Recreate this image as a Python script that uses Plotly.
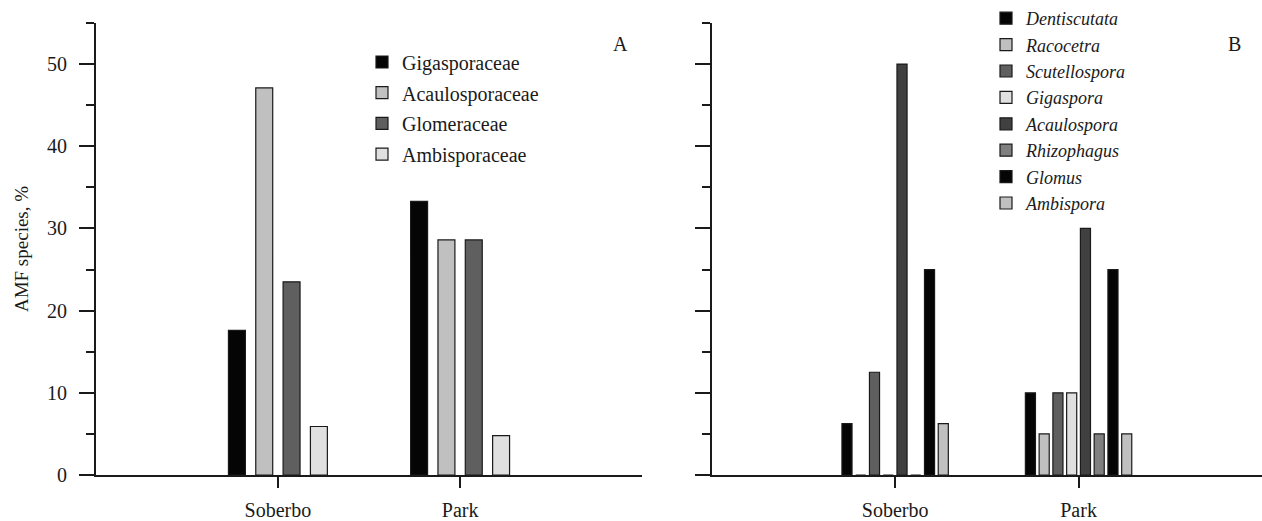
import plotly.graph_objects as go

# ---- data ----
sites = ["Soberbo", "Park"]

families = ["Gigasporaceae", "Acaulosporaceae", "Glomeraceae", "Ambisporaceae"]
family_soberbo = [17.6, 47.1, 23.5, 5.9]
family_park = [33.3, 28.6, 28.6, 4.8]

genera = ["Dentiscutata", "Racocetra", "Scutellospora", "Gigaspora",
          "Acaulospora", "Rhizophagus", "Glomus", "Ambispora"]
genus_soberbo = [6.25, 0, 12.5, 0, 50, 0, 25, 6.25]
genus_park = [10, 5, 10, 10, 30, 5, 25, 5]

y_ticks = [0, 10, 20, 30, 40, 50]

# ---- styles ----
family_colors = ["#050505", "#c0c0c0", "#5f5f5f", "#e0e0e0"]
genus_colors = ["#050505", "#c0c0c0", "#5f5f5f", "#e0e0e0",
                "#404040", "#808080", "#050505", "#c0c0c0"]
FONT = "Liberation Serif"
TXT = "#1a1a1a"
W, H = 1262, 521
ML, MR, MT, MB = 0, 0, 17, 41

fig = go.Figure()

for i, name in enumerate(families):
    fig.add_trace(go.Bar(
        x=sites, y=[family_soberbo[i], family_park[i]], name=name,
        xaxis="x", yaxis="y", legend="legend", legendgroup="a" + str(i),
        width=0.093,
        marker=dict(color=family_colors[i], line=dict(color=TXT, width=1.2)),
    ))

for i, name in enumerate(genera):
    fig.add_trace(go.Bar(
        x=sites, y=[genus_soberbo[i], genus_park[i]], name=name,
        xaxis="x2", yaxis="y2", legend="legend2", legendgroup="b" + str(i),
        width=0.055,
        marker=dict(color=genus_colors[i], line=dict(color=TXT, width=1.2)),
    ))

axis_common = dict(
    showline=True, linecolor=TXT, linewidth=1.6,
    ticks="outside", tickcolor=TXT, tickwidth=1.6,
    showgrid=False, zeroline=False,
    tickfont=dict(family=FONT, size=20, color=TXT),
)

yaxis_common = dict(
    axis_common, range=[0, 55], tickvals=y_ticks, ticklen=15,
    minor=dict(dtick=5, tick0=0, ticks="outside", ticklen=8,
               tickcolor=TXT, tickwidth=1.6, showgrid=False),
    ticklabelstandoff=8,
)

xaxis_common = dict(
    axis_common, type="category", range=[-1, 2], ticklen=11,
    ticklabelstandoff=5,
)

fig.update_layout(
    width=W, height=H,
    margin=dict(l=ML, r=MR, t=MT, b=MB),
    plot_bgcolor="white", paper_bgcolor="white",
    barmode="group", bargap=0.4, bargroupgap=0,
    font=dict(family=FONT, size=19, color=TXT),
    xaxis=dict(xaxis_common, domain=[95.7 / W, 642.3 / W], anchor="y"),
    yaxis=dict(yaxis_common, anchor="x",
               title=dict(text="AMF species, %", standoff=13,
                          font=dict(family=FONT, size=19, color=TXT))),
    xaxis2=dict(xaxis_common, domain=[711.7 / W, 1.0], anchor="y2"),
    yaxis2=dict(yaxis_common, anchor="x2", showticklabels=False),
    legend=dict(
        x=362 / W, xanchor="left", y=(480 - 37) / 463, yanchor="top",
        font=dict(family=FONT, size=20, color=TXT),
        tracegroupgap=1.7, bgcolor="rgba(0,0,0,0)",
    ),
    legend2=dict(
        x=986 / W, xanchor="left", y=(480 + 7) / 463, yanchor="top",
        font=dict(family=FONT, size=18, color=TXT, style="italic"),
        tracegroupgap=0, bgcolor="rgba(0,0,0,0)",
    ),
    annotations=[
        dict(text="A", xref="paper", yref="paper", x=620 / W, y=(480 - 25) / 463,
             showarrow=False, font=dict(family=FONT, size=20, color=TXT)),
        dict(text="B", xref="paper", yref="paper", x=1243 / W, y=(480 - 25) / 463,
             showarrow=False, font=dict(family=FONT, size=20, color=TXT)),
    ],
)

fig.write_html(
    "out.html",
    config={"displayModeBar": False},
    post_script="document.body.style.margin='0';document.body.style.overflow='hidden';",
)
